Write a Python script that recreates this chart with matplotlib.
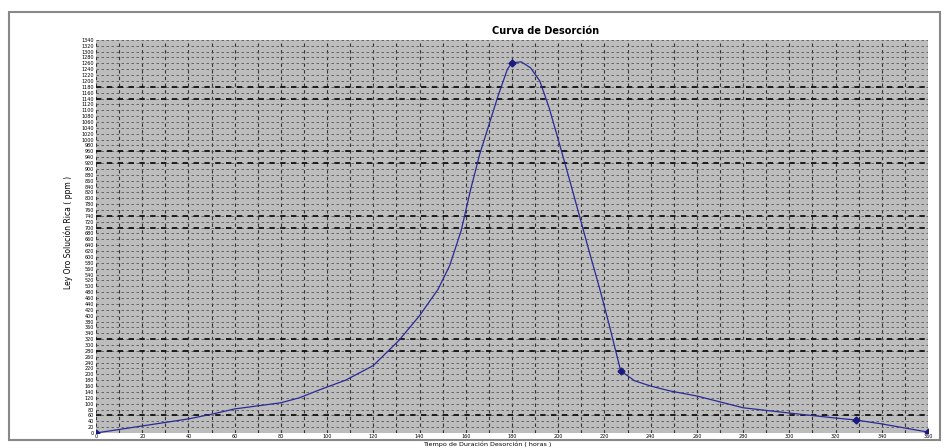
import numpy as np
import matplotlib.pyplot as plt
from matplotlib.patches import Rectangle

# curve (horas, ppm)
curve_x = [0, 20, 40, 50, 60, 80, 88, 97, 108, 120, 131, 140, 148, 153, 158, 162, 166, 170, 174, 178, 180,
           184, 188, 192, 196, 200, 205, 209, 213, 218, 222, 227, 233, 240, 248, 260, 280, 300, 320, 329, 340, 360]
curve_y = [0, 24, 48, 64, 82, 103, 120, 148, 180, 230, 315, 400, 490, 570, 690, 827, 950, 1050, 1150, 1240, 1262,
           1265, 1245, 1200, 1110, 1000, 860, 745, 630, 490, 370, 212, 178, 160, 144, 126, 86, 68, 51, 44, 31, 3]

# marker points
pts_x = [0, 180, 227, 329, 360]
pts_y = [0, 1262, 212, 44, 3]

x_ticks = np.arange(0, 361, 20)
y_ticks = np.arange(0, 1341, 20)
heavy_y = [60, 280, 320, 700, 740, 920, 960, 1140, 1180]

fig = plt.figure(figsize=(9.46, 4.48), dpi=100)
fig.patches.append(Rectangle((0.009, 0.018), 0.985, 0.955, transform=fig.transFigure,
                             fill=False, edgecolor='#888888', linewidth=1.5))

ax = fig.add_axes([0.1015, 0.0335, 0.8795, 0.8775])
ax.set_facecolor('#bdbdbd')

for v in np.arange(0, 361, 10):
    ax.axvline(v, color='#333333', linestyle=(0, (3, 3)), linewidth=0.8, zorder=1)
for v in y_ticks:
    ax.axhline(v, color='#555555', linestyle=(0, (3, 3)), linewidth=0.6, zorder=1)
for v in heavy_y:
    ax.axhline(v, color='#111111', linestyle=(0, (3, 3)), linewidth=1.3, zorder=1)

ax.plot(curve_x, curve_y, color='#2a2a9a', linewidth=0.9, zorder=3)
ax.plot(pts_x, pts_y, linestyle='none', marker='D', markersize=3.5, color='#1a1a80', zorder=4)

ax.set_xlim(0, 360)
ax.set_ylim(0, 1340)
ax.set_xticks(x_ticks)
ax.set_yticks(y_ticks)
ax.tick_params(axis='y', labelsize=3.5, length=0, pad=1.5)
ax.tick_params(axis='x', labelsize=3.5, length=0, pad=0.8)
for s in ax.spines.values():
    s.set_visible(False)

ax.set_title('Curva de Desorción', fontsize=7, fontweight='bold', pad=4, x=0.54)
ax.set_xlabel('Tiempo de Duración Desorción ( horas )', fontsize=4.6, va='center')
ax.xaxis.set_label_coords(0.47, -0.028)
ax.set_ylabel('Ley Oro Solución Rica ( ppm )', fontsize=5.5, labelpad=6, y=0.51)

fig.savefig('out.png', dpi=100)
